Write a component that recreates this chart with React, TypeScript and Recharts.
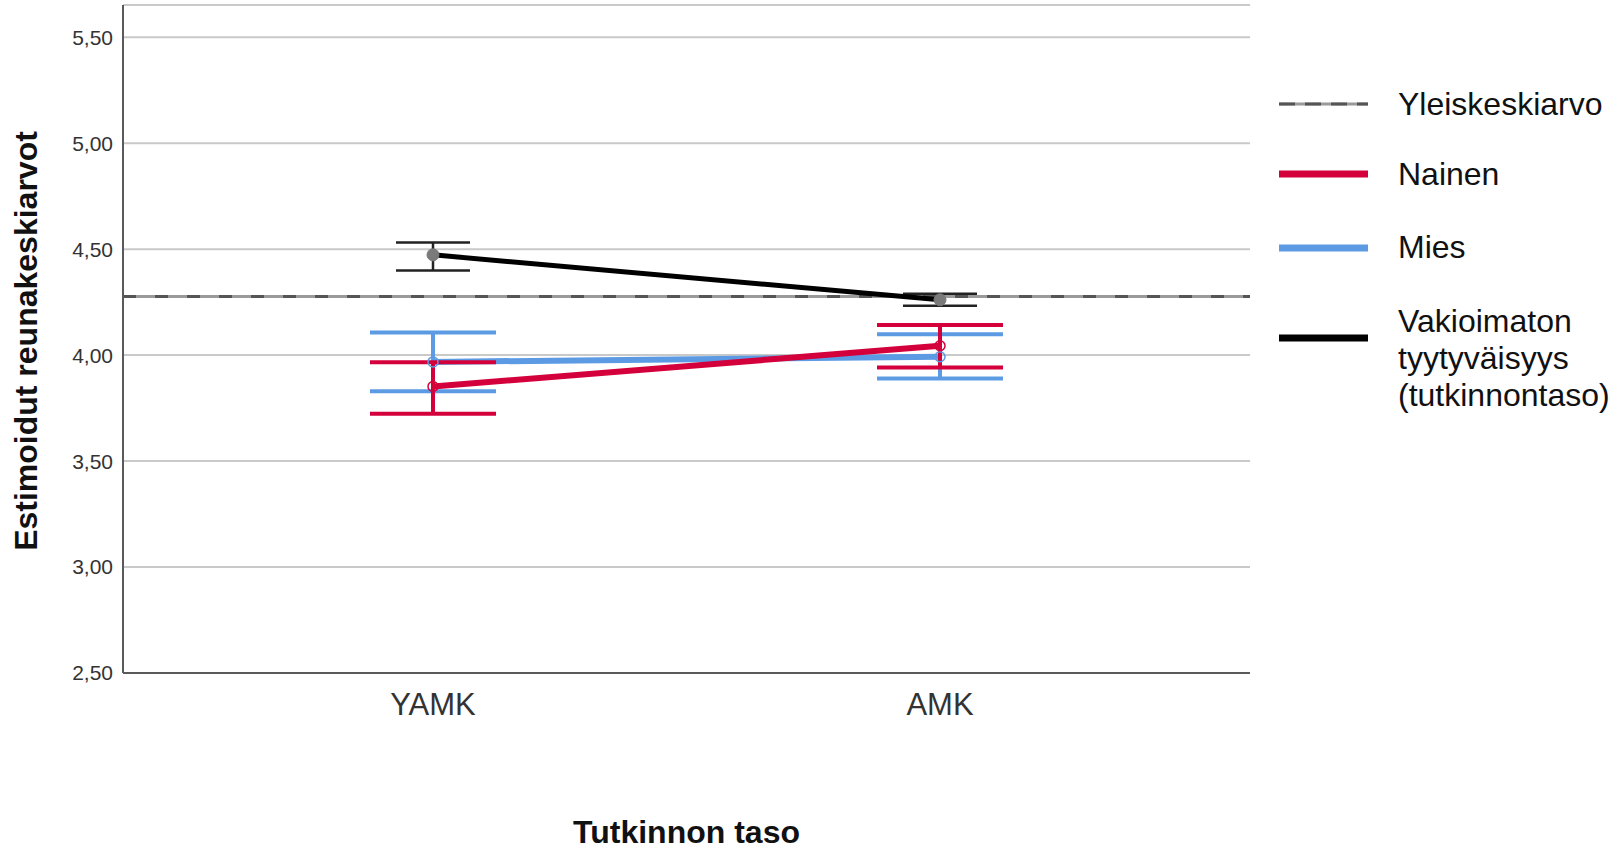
import React from 'react';
import {
  ComposedChart,
  Line,
  XAxis,
  YAxis,
  CartesianGrid,
  ErrorBar,
  ReferenceLine,
  Legend,
} from 'recharts';

// ---- data ----
const categories = ['YAMK', 'AMK'];

const nainenMean = [3.852, 4.044];
const nainenLow = [3.723, 3.942];
const nainenHigh = [3.966, 4.142];

const miesMean = [3.968, 3.992];
const miesLow = [3.829, 3.89];
const miesHigh = [4.107, 4.098];

const totalMean = [4.473, 4.261];
const totalLow = [4.399, 4.233];
const totalHigh = [4.531, 4.29];

const grandMean = 4.277;

const yTicks = [2.5, 3, 3.5, 4, 4.5, 5, 5.5];

const legendLabels = ['Yleiskeskiarvo', 'Nainen', 'Mies', 'Vakioimaton tyytyväisyys (tutkinnontaso)'];

// ---- styles ----
const RED = '#d4003b';
const BLUE = '#5c9be3';
const BLACK = '#000000';
const GRID = '#c9c9c9';
const AXIS = '#5a5a5a';
const FONT = "'Liberation Sans', Arial, Helvetica, sans-serif";

const data = categories.map((c, i) => ({
  cat: c,
  nainen: nainenMean[i],
  nainenErr: [nainenMean[i] - nainenLow[i], nainenHigh[i] - nainenMean[i]],
  mies: miesMean[i],
  miesErr: [miesMean[i] - miesLow[i], miesHigh[i] - miesMean[i]],
  total: totalMean[i],
  totalErr: [totalMean[i] - totalLow[i], totalHigh[i] - totalMean[i]],
}));

const fmt = (v: number) => v.toFixed(2).replace('.', ',');

const YTitle = (props: any) => {
  const vb = props.viewBox || { x: 0, y: 0, width: 0, height: 0 };
  const cx = 26;
  const cy = vb.y + vb.height / 2 + 2;
  return (
    <text
      x={cx}
      y={cy}
      transform={`rotate(-90 ${cx} ${cy})`}
      textAnchor="middle"
      dominantBaseline="central"
      fontSize={32}
      fontWeight="bold"
      fill="#111"
      fontFamily={FONT}
    >
      Estimoidut reunakeskiarvot
    </text>
  );
};

const XTitle = (props: any) => {
  const vb = props.viewBox || { x: 0, y: 0, width: 0, height: 0 };
  return (
    <text
      x={vb.x + vb.width / 2}
      y={vb.y + 170}
      textAnchor="middle"
      fontSize={32}
      fontWeight="bold"
      fill="#111"
      fontFamily={FONT}
    >
      Tutkinnon taso
    </text>
  );
};

const LegendContent = () => {
  const sw = { x1: 9, x2: 98 };
  const tx = 128;
  const fs = 32;
  return (
    <svg width={343} height={380} style={{ overflow: 'visible' }}>
      {/* Yleiskeskiarvo */}
      <line x1={sw.x1} x2={sw.x2} y1={44} y2={44} stroke="#9a9a9a" strokeWidth={3} />
      <line x1={sw.x1} x2={sw.x2} y1={44} y2={44} stroke="#555" strokeWidth={3} strokeDasharray="16 10" />
      <text x={tx} y={55} fontSize={fs} fill="#111" fontFamily={FONT}>{legendLabels[0]}</text>
      {/* Nainen */}
      <line x1={sw.x1} x2={sw.x2} y1={114} y2={114} stroke={RED} strokeWidth={7} />
      <text x={tx} y={125} fontSize={fs} fill="#111" fontFamily={FONT}>{legendLabels[1]}</text>
      {/* Mies */}
      <line x1={sw.x1} x2={sw.x2} y1={188} y2={188} stroke={BLUE} strokeWidth={7} />
      <text x={tx} y={198} fontSize={fs} fill="#111" fontFamily={FONT}>{legendLabels[2]}</text>
      {/* Vakioimaton */}
      <line x1={sw.x1} x2={sw.x2} y1={278} y2={278} stroke={BLACK} strokeWidth={7} />
      <text x={tx} y={272} fontSize={fs} fill="#111" fontFamily={FONT}>
        <tspan x={tx} y={272}>Vakioimaton</tspan>
        <tspan x={tx} y={309}>tyytyväisyys</tspan>
        <tspan x={tx} y={346}>(tutkinnontaso)</tspan>
      </text>
    </svg>
  );
};

export default function App() {
  return (
    <div
      style={{
        position: 'absolute',
        left: 0,
        top: 0,
        width: 1613,
        height: 852,
        background: '#fff',
        fontFamily: FONT,
      }}
    >
      <ComposedChart
        width={1613}
        height={852}
        data={data}
        margin={{ top: 5, right: 363, bottom: 0, left: 0 }}
      >
        <CartesianGrid horizontal vertical={false} stroke={GRID} strokeWidth={2} />
        <XAxis
          dataKey="cat"
          type="category"
          scale="point"
          padding={{ left: 310, right: 310 }}
          height={179}
          tickLine={false}
          tickSize={0}
          tickMargin={20}
          axisLine={{ stroke: AXIS, strokeWidth: 2 }}
          tick={{ fontSize: 31, fill: '#333', fontFamily: FONT }}
          label={<XTitle />}
        />
        <YAxis
          type="number"
          domain={[2.5, 5.652]}
          ticks={yTicks}
          allowDataOverflow
          width={123}
          tickLine={false}
          tickSize={0}
          tickMargin={10}
          tickFormatter={fmt}
          axisLine={{ stroke: AXIS, strokeWidth: 2 }}
          tick={{ fontSize: 21, fill: '#333', fontFamily: FONT }}
          label={<YTitle />}
        />
        <ReferenceLine y={grandMean} stroke="#9a9a9a" strokeWidth={3} />
        <ReferenceLine y={grandMean} stroke="#555" strokeWidth={3} strokeDasharray="13 19" />
        <Line
          dataKey="mies"
          stroke={BLUE}
          strokeWidth={6}
          isAnimationActive={false}
          dot={{ r: 5, fill: 'none', stroke: BLUE, strokeWidth: 1.5 }}
          activeDot={false}
        >
          <ErrorBar dataKey="miesErr" direction="y" width={63} stroke={BLUE} strokeWidth={4} isAnimationActive={false} />
        </Line>
        <Line
          dataKey="nainen"
          stroke={RED}
          strokeWidth={6}
          isAnimationActive={false}
          dot={{ r: 5, fill: 'none', stroke: RED, strokeWidth: 1.5 }}
          activeDot={false}
        >
          <ErrorBar dataKey="nainenErr" direction="y" width={63} stroke={RED} strokeWidth={4} isAnimationActive={false} />
        </Line>
        <Line
          dataKey="total"
          stroke={BLACK}
          strokeWidth={5}
          isAnimationActive={false}
          dot={{ r: 6, fill: '#7a7a7a', stroke: '#7a7a7a', strokeWidth: 1 }}
          activeDot={false}
        >
          <ErrorBar dataKey="totalErr" direction="y" width={37} stroke="#222" strokeWidth={2.5} isAnimationActive={false} />
        </Line>
        <Legend
          layout="horizontal"
          align="center"
          verticalAlign="middle"
          content={<LegendContent />}
          wrapperStyle={{ position: 'absolute', left: 1270, top: 60, width: 343, height: 380 }}
        />
      </ComposedChart>
    </div>
  );
}
